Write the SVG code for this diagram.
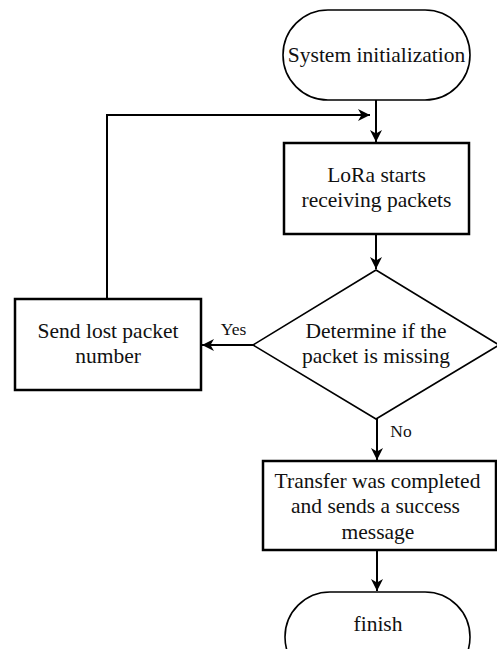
<svg xmlns="http://www.w3.org/2000/svg" width="497" height="649" viewBox="0 0 497 649">
<style>
text{font-family:'Liberation Serif','DejaVu Serif','Times New Roman',serif;fill:#111;text-anchor:middle}
.t{font-size:21.5px}
.s{font-size:17.5px}
.box{fill:#fff;stroke:#000;stroke-width:2.5}
.term{fill:#fff;stroke:#000;stroke-width:1.6}
.c{fill:none;stroke:#000;stroke-width:2}
</style>
<defs>
<marker id="ah" viewBox="0 0 12 12" refX="12" refY="6" markerWidth="12" markerHeight="12" markerUnits="userSpaceOnUse" orient="auto">
<path d="M0,0 L12,6 L0,12 L3.5,6 Z" fill="#000"/>
</marker>
</defs>
<g id="connectors">
<path class="c" d="M376,100 V142" marker-end="url(#ah)"/>
<path class="c" d="M107,299 V115 H370" marker-end="url(#ah)"/>
<path class="c" d="M376,234 V269" marker-end="url(#ah)"/>
<path class="c" d="M253,345 H202" marker-end="url(#ah)"/>
<path class="c" d="M377,419 V460" marker-end="url(#ah)"/>
<path class="c" d="M377,550 V591" marker-end="url(#ah)"/>
<text class="s" x="233.5" y="335">Yes</text>
<text class="s" x="401" y="437">No</text>
</g>
<g id="start">
<rect class="term" x="283" y="10" width="187" height="90" rx="45" ry="45"/>
<text class="t" x="376.5" y="62">System initialization</text>
</g>
<g id="receive">
<rect class="box" x="284" y="143" width="185" height="91"/>
<text class="t" x="376.5" y="182">LoRa starts</text>
<text class="t" x="376.5" y="207">receiving packets</text>
</g>
<g id="decision">
<polygon class="term" points="376,270 499,345 376,419 253,345"/>
<text class="t" x="376" y="338">Determine if the</text>
<text class="t" x="376" y="363">packet is missing</text>
</g>
<g id="sendlost">
<rect class="box" x="15" y="299" width="186" height="91"/>
<text class="t" x="108" y="338">Send lost packet</text>
<text class="t" x="108" y="363">number</text>
</g>
<g id="transfer">
<rect class="box" x="263" y="461" width="233" height="89"/>
<text class="t" x="377.5" y="488">Transfer was completed</text>
<text class="t" x="375.5" y="513">and sends a success</text>
<text class="t" x="378" y="539">message</text>
</g>
<g id="finish">
<rect class="term" x="285" y="592" width="185" height="90" rx="45" ry="45"/>
<text class="t" x="378" y="631">finish</text>
</g>
</svg>
